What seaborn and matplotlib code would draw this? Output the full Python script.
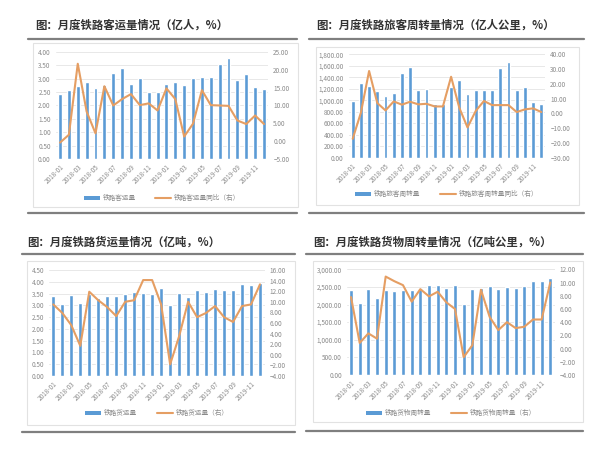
import numpy as np
import pandas as pd
import matplotlib
matplotlib.use("Agg")
import matplotlib.pyplot as plt
import matplotlib.ticker as mticker
from matplotlib.patches import Rectangle, Patch
from matplotlib.lines import Line2D
import seaborn as sns

sns.set_style("white")
plt.rcParams['font.family'] = ['Noto Sans CJK SC', 'DejaVu Sans']

W, H = 612, 449
BLUE = "#5B9BD5"
ORANGE = "#E59E63"
GREY = "#7f7f7f"

months = [f"{y}-{m:02d}" for y in (2018, 2019) for m in range(1, 13)]

# 铁路客运量 (亿人) / 同比 (%)
passengers = [2.43, 2.58, 2.74, 2.86, 2.65, 2.75, 3.20, 3.41, 2.80, 3.02, 2.49, 2.49,
              2.81, 2.89, 2.76, 3.03, 3.06, 3.05, 3.54, 3.76, 2.96, 3.16, 2.69, 2.61]
passengers_yoy = [-0.4, 1.8, 21.7, 8.3, 2.2, 15.4, 10.0, 11.8, 13.2, 10.1, 10.6, 8.6,
                  14.8, 11.8, 1.3, 4.9, 14.3, 10.1, 10.0, 9.9, 5.8, 4.8, 7.2, 4.8]

# 铁路旅客周转量 (亿人公里) / 同比 (%)
pass_km = [987, 1301, 1243, 1161, 1080, 1121, 1481, 1574, 1173, 1202, 941, 930,
           1225, 1359, 1109, 1173, 1173, 1173, 1556, 1661, 1173, 1225, 976, 929]
pass_km_yoy = [-17.2, 0.5, 28.7, 7.0, 2.0, 8.1, 5.9, 7.9, 6.1, 6.5, 4.7, 4.7,
               24.8, 3.8, -9.5, 1.6, 8.4, 5.6, 5.6, 5.6, 0.9, 2.7, 3.4, 0.9]

# 铁路货运量 (亿吨) / 同比 (%)
freight = [3.41, 3.07, 3.44, 3.09, 3.50, 3.33, 3.40, 3.40, 3.46, 3.57, 3.53, 3.50,
           3.73, 3.01, 3.51, 3.37, 3.66, 3.57, 3.71, 3.64, 3.66, 3.90, 3.87, 3.96]
freight_yoy = [9.5, 7.9, 5.6, 1.7, 11.9, 10.3, 9.0, 7.3, 10.0, 10.3, 14.1, 14.1,
               9.5, -1.8, 3.5, 10.0, 7.1, 7.9, 9.2, 7.1, 6.2, 9.2, 9.5, 13.3]

# 铁路货物周转量 (亿吨公里) / 同比 (%)
freight_km = [2406, 2057, 2434, 2189, 2415, 2377, 2415, 2406, 2440, 2547, 2547, 2481,
              2547, 2028, 2453, 2472, 2519, 2453, 2509, 2481, 2528, 2670, 2660, 2755]
freight_km_yoy = [7.8, 0.85, 2.3, 1.5, 10.9, 10.2, 9.6, 7.1, 9.0, 7.9, 8.6, 7.0,
                  6.0, -1.3, 0.5, 8.9, 4.8, 2.8, 4.0, 3.1, 3.3, 4.4, 4.4, 10.0]

titles = ["图：月度铁路客运量情况（亿人，%）",
          "图：月度铁路旅客周转量情况（亿人公里，%）",
          "图：月度铁路货运量情况（亿吨，%）",
          "图：月度铁路货物周转量情况（亿吨公里，%）"]
bar_labels = ["铁路客运量", "铁路旅客周转量", "铁路货运量", "铁路货物周转量"]
line_labels = ["铁路客运量同比（右）", "铁路旅客周转量同比（右）",
               "铁路货运量（右）", "铁路货物周转量（右）"]


def fx(px):
    return px / W


def fy(py):
    return 1 - py / H


fig = plt.figure(figsize=(W / 100, H / 100), dpi=100)
fig.patch.set_facecolor("white")

panels = [
    dict(bars=passengers, yoy=passengers_yoy, axes=(55.6, 52, 268.4, 159),
         frame=(33, 43, 298, 207), rule=(28, 297, 39, 213), title_xy=(35, 25),
         left=(0, 4, 0.5), right=(-5, 25, 5), comma=False, leg_y=198),
    dict(bars=pass_km, yoy=pass_km_yoy, axes=(348.6, 54.3, 545.4, 157.7),
         frame=(316, 47, 579, 205), rule=(309, 584, 39, 213), title_xy=(316, 25),
         left=(0, 1800, 200), right=(-30, 40, 10), comma=True, leg_y=194),
    dict(bars=freight, yoy=freight_yoy, axes=(48.8, 270, 264.5, 376),
         frame=(27, 261, 295, 425), rule=(22, 295, 254, 432), title_xy=(27, 242),
         left=(0, 4.5, 0.5), right=(-4, 16, 2), comma=False, leg_y=413),
    dict(bars=freight_km, yoy=freight_km_yoy, axes=(346.7, 269.3, 554.6, 375),
         frame=(313, 261, 583, 422), rule=(306, 583, 254, 431), title_xy=(313, 242),
         left=(0, 3000, 500), right=(-4, 12, 2), comma=True, leg_y=413),
]

for i, p in enumerate(panels):
    l, t, r, b = p["frame"]
    fig.patches.append(Rectangle((fx(l), fy(b)), fx(r - l), (b - t) / H,
                                 transform=fig.transFigure, fill=False,
                                 edgecolor="#e2e2e2", lw=0.8))
    x0, x1, ytop, ybot = p["rule"]
    for yy in (ytop, ybot):
        fig.add_artist(Line2D([fx(x0), fx(x1)], [fy(yy), fy(yy)],
                              transform=fig.transFigure, color=GREY, lw=1.6))
    fig.text(fx(p["title_xy"][0]), fy(p["title_xy"][1]), titles[i],
             fontsize=8.2, fontweight="bold", color="#333333",
             ha="left", va="center")

    al, at, ar, ab = p["axes"]
    ax = fig.add_axes([fx(al), fy(ab), fx(ar - al), (ab - at) / H])
    df = pd.DataFrame({"month": months, "value": p["bars"], "yoy": p["yoy"],
                       "pos": np.arange(len(months))})
    sns.barplot(data=df, x="month", y="value", color=BLUE, saturation=1,
                width=0.45, ax=ax, legend=False)
    ax2 = ax.twinx()
    sns.lineplot(data=df, x="pos", y="yoy", color=ORANGE, lw=1.5, ax=ax2,
                 legend=False)
    ax.set_xlim(-0.5, len(months) - 0.5)

    lo, hi, st = p["left"]
    ax.set_ylim(lo, hi)
    ax.set_yticks(np.arange(lo, hi + st / 2, st))
    rlo, rhi, rst = p["right"]
    ax2.set_ylim(rlo, rhi)
    ax2.set_yticks(np.arange(rlo, rhi + rst / 2, rst))
    fmt = "{x:,.2f}" if p["comma"] else "{x:.2f}"
    ax.yaxis.set_major_formatter(mticker.StrMethodFormatter(fmt))
    ax2.yaxis.set_major_formatter(mticker.StrMethodFormatter("{x:.2f}"))

    ax.set_xticks(range(0, len(months), 2))
    ax.set_xticklabels(months[::2], rotation=45, ha="right",
                       rotation_mode="anchor")
    ax.set_xlabel("")
    ax.set_ylabel("")
    ax2.set_ylabel("")
    ax2.set_xlabel("")
    ax.yaxis.grid(True, color="#e4e4e4", lw=0.6)
    ax.set_axisbelow(True)
    for a in (ax, ax2):
        for s in a.spines.values():
            s.set_visible(False)
        a.tick_params(length=0, labelsize=4.6, labelcolor="#8a8a8a", pad=3.5)
    ax.tick_params(axis="x", pad=3)
    ax.set_zorder(1)
    ax2.set_zorder(2)
    ax2.patch.set_visible(False)
    ax.patch.set_visible(False)

    handles = [Patch(facecolor=BLUE, edgecolor="none"),
               Line2D([], [], color=ORANGE, lw=1.5)]
    leg = ax2.legend(handles, [bar_labels[i], line_labels[i]], loc="center",
                     bbox_to_anchor=(fx((al + ar) / 2), fy(p["leg_y"])),
                     bbox_transform=fig.transFigure, ncol=2, frameon=False,
                     fontsize=4.8, handlelength=2.4, handleheight=0.5,
                     columnspacing=3.0, handletextpad=0.4)
    for txt in leg.get_texts():
        txt.set_color("#8a8a8a")

fig.savefig("out.png", dpi=100, facecolor="white")
